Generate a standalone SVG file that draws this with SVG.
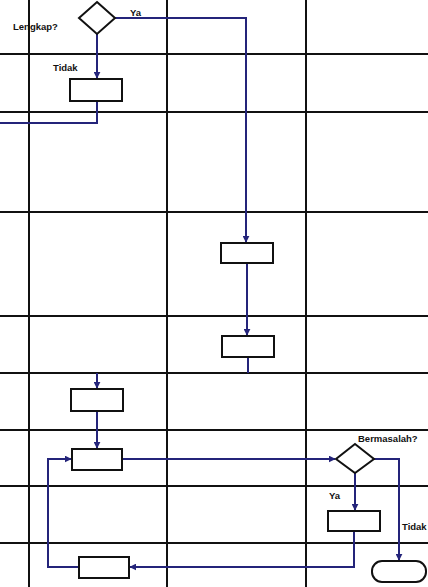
<svg xmlns="http://www.w3.org/2000/svg" width="428" height="587" viewBox="0 0 428 587">
<style>
.grid{stroke:#111;stroke-width:2;fill:none}
.node{fill:#fff;stroke:#111;stroke-width:2}
.conn{fill:none;stroke:#24247a;stroke-width:2}
.arr{marker-end:url(#ah)}
.lbl{font-family:"Liberation Sans",Arial,sans-serif;font-size:9.5px;font-weight:bold;fill:#111}
</style>
<defs>
<marker id="ah" viewBox="0 0 10 10" refX="9" refY="5" markerWidth="3.5" markerHeight="3.5" orient="auto" markerUnits="strokeWidth">
<path d="M0,0 L10,5 L0,10 z" fill="#24247a"/>
</marker>
</defs>
<rect width="428" height="587" fill="#fff"/>
<g id="grid" class="grid">
<line x1="29" y1="0" x2="29" y2="587"/>
<line x1="167" y1="0" x2="167" y2="587"/>
<line x1="306" y1="0" x2="306" y2="587"/>
<line x1="0" y1="54" x2="428" y2="54"/>
<line x1="0" y1="112" x2="428" y2="112"/>
<line x1="0" y1="212" x2="428" y2="212"/>
<line x1="0" y1="316" x2="428" y2="316"/>
<line x1="0" y1="373" x2="428" y2="373"/>
<line x1="0" y1="430" x2="428" y2="430"/>
<line x1="0" y1="486" x2="428" y2="486"/>
<line x1="0" y1="543" x2="428" y2="543"/>
</g>
<g id="connectors">
<polyline class="conn arr" points="115,18 246,18 246,242"/>
<line class="conn arr" x1="97" y1="34" x2="97" y2="78"/>
<polyline class="conn" points="97,101 97,123 0,123"/>
<line class="conn arr" x1="247" y1="263" x2="247" y2="335"/>
<line class="conn" x1="248" y1="357" x2="248" y2="373"/>
<line class="conn arr" x1="97" y1="373" x2="97" y2="388"/>
<line class="conn arr" x1="97" y1="411" x2="97" y2="448"/>
<line class="conn arr" x1="122" y1="459" x2="335" y2="459"/>
<line class="conn arr" x1="355" y1="473" x2="355" y2="510"/>
<polyline class="conn arr" points="354,531 354,567 130,567"/>
<polyline class="conn arr" points="79,567 48,567 48,459 71,459"/>
<polyline class="conn arr" points="374,459 399,459 399,560"/>
</g>
<g id="n-lengkap">
<polygon class="node" points="97,2 115,18 97,34 79,18"/>
<text class="lbl" x="13" y="30">Lengkap?</text>
</g>
<text class="lbl" x="130" y="16">Ya</text>
<text class="lbl" x="53" y="71">Tidak</text>
<g id="n-box1"><rect class="node" x="70" y="79" width="52" height="22"/></g>
<g id="n-box2"><rect class="node" x="221" y="243" width="52" height="20"/></g>
<g id="n-box3"><rect class="node" x="222" y="336" width="52" height="21"/></g>
<g id="n-box4"><rect class="node" x="71" y="389" width="52" height="22"/></g>
<g id="n-box5"><rect class="node" x="72" y="449" width="50" height="21"/></g>
<g id="n-bermasalah">
<polygon class="node" points="355,444 374,459 355,473 336,459"/>
<text class="lbl" x="358" y="442">Bermasalah?</text>
</g>
<text class="lbl" x="329" y="499">Ya</text>
<text class="lbl" x="402" y="530">Tidak</text>
<g id="n-box6"><rect class="node" x="328" y="511" width="52" height="20"/></g>
<g id="n-box7"><rect class="node" x="79" y="557" width="50" height="21"/></g>
<g id="n-end"><rect class="node" x="372" y="561" width="54" height="21" rx="10" ry="10"/></g>
</svg>
